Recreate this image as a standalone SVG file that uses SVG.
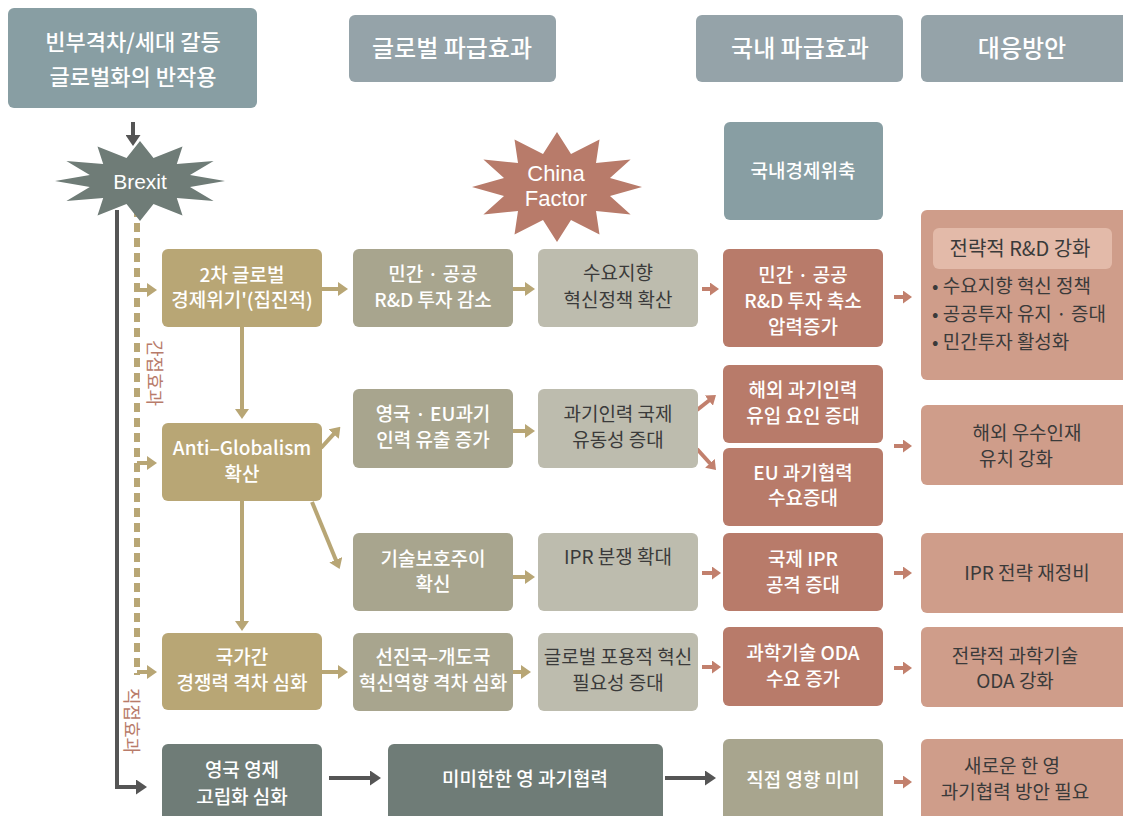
<svg xmlns="http://www.w3.org/2000/svg" width="1123" height="816" viewBox="0 0 1123 816">
<defs>
<style>
text{font-family:"Noto Sans CJK KR","Noto Sans",sans-serif;text-anchor:middle}
.w{fill:#ffffff;font-size:19px;font-weight:500}
.d{fill:#3a3a3a;font-size:19px}
.hd{fill:#ffffff;font-size:24px;font-weight:500}
.en{font-family:"Liberation Sans",Arial,sans-serif;fill:#ffffff}
.hdr1{fill:#889ea3}
.hdr{fill:#95a3a9}
.tan{fill:#b8a675}
.olv{fill:#a8a58e}
.lgr{fill:#bdbcae}
.rst{fill:#b87b6a}
.sal{fill:#cf9d8a}
.dgg{fill:#6f7c77}
.tl{fill:#889ea3}
.ct{stroke:#b8a675;stroke-width:4;fill:none;marker-end:url(#ht)}
.cr{stroke:#c2806d;stroke-width:4;fill:none;marker-end:url(#hr)}
.cd{stroke:#555555;stroke-width:4;fill:none;marker-end:url(#hd)}
.vl{fill:#b87b6a;font-size:18px}
.bl{fill:#3a3a3a;font-size:19px;text-anchor:start}
</style>
<marker id="ht" viewBox="0 0 10 14" refX="1" refY="7" markerWidth="10" markerHeight="14" markerUnits="userSpaceOnUse" orient="auto"><path d="M0,0 L10,7 L0,14 z" fill="#b8a675"/></marker>
<marker id="hr" viewBox="0 0 9 13" refX="1" refY="6.5" markerWidth="9" markerHeight="13" markerUnits="userSpaceOnUse" orient="auto"><path d="M0,0 L9,6.5 L0,13 z" fill="#c2806d"/></marker>
<marker id="hd" viewBox="0 0 11 15" refX="1" refY="7.5" markerWidth="11" markerHeight="15" markerUnits="userSpaceOnUse" orient="auto"><path d="M0,0 L11,7.5 L0,15 z" fill="#555555"/></marker>
</defs>

<!-- headers -->
<g id="h1"><rect class="hdr1" x="8" y="8" width="249" height="100" rx="6"/><text class="hd" style="font-size:22px" x="133" y="50">빈부격차/세대 갈등</text><text class="hd" style="font-size:22px" x="133" y="85">글로벌화의 반작용</text></g>
<g id="h2"><rect class="hdr" x="349" y="15" width="207" height="67" rx="6"/><text class="hd" x="452" y="57">글로벌 파급효과</text></g>
<g id="h3"><rect class="hdr" x="696" y="15" width="207" height="67" rx="6"/><text class="hd" x="800" y="57">국내 파급효과</text></g>
<g id="h4"><rect class="hdr" x="921" y="15" width="210" height="67" rx="6"/><text class="hd" x="1022" y="57">대응방안</text></g>

<!-- connectors -->
<g id="connectors">
<path class="cd" d="M133,122 V136"/>
<path class="cd" d="M117,210 V787 H137"/>
<path d="M137,208 V675" stroke="#b8a675" stroke-width="6" stroke-dasharray="9 6" fill="none"/>
<path class="ct" d="M137,290 H148"/>
<path class="ct" d="M137,463 H148"/>
<path class="ct" d="M137,672 H148"/>
<path class="ct" d="M322,289 H339"/>
<path class="ct" d="M510,289 H526"/>
<path class="ct" d="M242,327 V410"/>
<path class="ct" d="M242,501 V622"/>
<path class="ct" d="M321,448 L334.3,433.4"/>
<path class="ct" d="M312,502 L336.2,560.7"/>
<path class="ct" d="M510,431 H526"/>
<path class="ct" d="M510,577 H526"/>
<path class="ct" d="M322,672 H339"/>
<path class="ct" d="M505,672 H522"/>
<path class="cr" d="M702,289 H711"/>
<path class="cr" d="M697,410 L709.7,400"/>
<path class="cr" d="M697,449 L710.6,464"/>
<path class="cr" d="M702,573 H713"/>
<path class="cr" d="M702,667 H713"/>
<path class="cr" d="M894,297 H904"/>
<path class="cr" d="M894,446 H904"/>
<path class="cr" d="M894,573 H904"/>
<path class="cr" d="M894,668 H904"/>
<path class="cr" d="M894,782 H904"/>
<path class="cd" d="M329,778 H371"/>
<path class="cd" d="M665,778 H706"/>
<text class="vl" transform="translate(148,373) rotate(90)">간접효과</text>
<text class="vl" transform="translate(125,721) rotate(90)">직접효과</text>
</g>

<!-- stars -->
<g id="brexit">
<polygon fill="#6f7c77" points="225,181 190,187 213.6,201 176.8,198 182.5,215.6 153.5,204 140,221 126.5,204 97.5,215.6 103.2,198 66.4,201 89.8,187 55,181 89.8,175 66.4,161 103.2,164 97.5,146.4 126.5,158 140,141 153.5,158 182.5,146.4 176.8,164 213.6,161 190,175"/>
<text class="en" font-size="21" x="140" y="189">Brexit</text>
</g>
<g id="china">
<polygon fill="#b87b6a" points="642,187 610,196 630.6,214.5 596,211 599.5,234.6 571,220 557,242 543,220 514.5,234.6 518,211 483.4,214.5 504,196 472,187 504,178 483.4,159.5 518,163 514.5,139.4 543,154 557,132 571,154 599.5,139.4 596,163 630.6,159.5 610,178"/>
<text class="en" font-size="22" x="556" y="181">China</text>
<text class="en" font-size="22" x="556" y="206">Factor</text>
</g>

<g id="n_domestic"><rect class="tl" x="724" y="122" width="159" height="98" rx="6"/><text class="w" x="803" y="178">국내경제위축</text></g>

<!-- column 1 -->
<g id="c1a"><rect class="tan" x="162" y="249" width="160" height="78" rx="6"/><text class="w" x="242" y="282">2차 글로벌</text><text class="w" x="242" y="307">경제위기'(집진적)</text></g>
<g id="c1b"><rect class="tan" x="162" y="423" width="160" height="78" rx="6"/><text class="w" x="242" y="455">Anti–Globalism</text><text class="w" x="242" y="481">확산</text></g>
<g id="c1c"><rect class="tan" x="162" y="633" width="160" height="77" rx="6"/><text class="w" x="242" y="664">국가간</text><text class="w" x="242" y="690">경쟁력 격차 심화</text></g>
<g id="c1d"><rect class="dgg" x="162" y="744" width="160" height="80" rx="6"/><text class="w" x="242" y="777">영국 영제</text><text class="w" x="242" y="804">고립화 심화</text></g>

<!-- column 2 -->
<g id="c2a"><rect class="olv" x="353" y="249" width="160" height="78" rx="6"/><text class="w" x="433" y="281">민간 · 공공</text><text class="w" x="433" y="307">R&amp;D 투자 감소</text></g>
<g id="c2b"><rect class="olv" x="353" y="389" width="160" height="79" rx="6"/><text class="w" x="433" y="421">영국 · EU과기</text><text class="w" x="433" y="447">인력 유출 증가</text></g>
<g id="c2c"><rect class="olv" x="353" y="533" width="160" height="78" rx="6"/><text class="w" x="433" y="566">기술보호주이</text><text class="w" x="433" y="591">확신</text></g>
<g id="c2d"><rect class="olv" x="353" y="633" width="160" height="78" rx="6"/><text class="w" x="433" y="664">선진국–개도국</text><text class="w" x="433" y="690">혁신역향 격차 심화</text></g>
<g id="c2e"><rect class="dgg" x="388" y="744" width="275" height="80" rx="6"/><text class="w" x="525" y="786">미미한한 영 과기협력</text></g>

<!-- column 3 -->
<g id="c3a"><rect class="lgr" x="538" y="249" width="160" height="78" rx="6"/><text class="d" x="618" y="280">수요지향</text><text class="d" x="618" y="307">혁신정책 확산</text></g>
<g id="c3b"><rect class="lgr" x="538" y="389" width="160" height="79" rx="6"/><text class="d" x="618" y="421">과기인력 국제</text><text class="d" x="618" y="447">유동성 증대</text></g>
<g id="c3c"><rect class="lgr" x="538" y="533" width="160" height="78" rx="6"/><text class="d" x="618" y="564">IPR 분쟁 확대</text></g>
<g id="c3d"><rect class="lgr" x="538" y="633" width="160" height="78" rx="6"/><text class="d" x="618" y="664">글로벌 포용적 혁신</text><text class="d" x="618" y="690">필요성 증대</text></g>

<!-- column 4 -->
<g id="c4a"><rect class="rst" x="723" y="249" width="160" height="98" rx="6"/><text class="w" x="803" y="282">민간 · 공공</text><text class="w" x="803" y="308">R&amp;D 투자 축소</text><text class="w" x="803" y="334">압력증가</text></g>
<g id="c4b"><rect class="rst" x="723" y="365" width="160" height="78" rx="6"/><text class="w" x="803" y="397">해외 과기인력</text><text class="w" x="803" y="423">유입 요인 증대</text></g>
<g id="c4c"><rect class="rst" x="723" y="448" width="160" height="78" rx="6"/><text class="w" x="803" y="480">EU 과기협력</text><text class="w" x="803" y="505">수요증대</text></g>
<g id="c4d"><rect class="rst" x="723" y="533" width="160" height="78" rx="6"/><text class="w" x="803" y="566">국제 IPR</text><text class="w" x="803" y="592">공격 증대</text></g>
<g id="c4e"><rect class="rst" x="723" y="627" width="160" height="79" rx="6"/><text class="w" x="803" y="660">과학기술 ODA</text><text class="w" x="803" y="686">수요 증가</text></g>
<g id="c4f"><rect class="olv" x="723" y="739" width="160" height="85" rx="6"/><text class="w" x="803" y="787">직접 영향 미미</text></g>

<!-- column 5 -->
<g id="c5a"><rect class="sal" x="921" y="210" width="210" height="170" rx="6"/><rect x="933" y="228" width="179" height="41" rx="6" fill="#e3baa9"/><text class="d" style="font-size:20px" x="1020" y="256">전략적 R&amp;D 강화</text>
<text class="bl" x="932" y="293">• 수요지향 혁신 정책</text>
<text class="bl" x="932" y="321">• 공공투자 유지 · 증대</text>
<text class="bl" x="932" y="349">• 민간투자 활성화</text></g>
<g id="c5b"><rect class="sal" x="921" y="405" width="210" height="80" rx="6"/><text class="d" x="1027" y="440">해외 우수인재</text><text class="d" x="1016" y="466">유치 강화</text></g>
<g id="c5c"><rect class="sal" x="921" y="533" width="210" height="80" rx="6"/><text class="d" x="1027" y="580">IPR 전략 재정비</text></g>
<g id="c5d"><rect class="sal" x="921" y="627" width="210" height="80" rx="6"/><text class="d" x="1015" y="663">전략적 과학기술</text><text class="d" x="1015" y="688">ODA 강화</text></g>
<g id="c5e"><rect class="sal" x="921" y="739" width="210" height="85" rx="6"/><text class="d" x="1012" y="773">새로운 한 영</text><text class="d" x="1015" y="799">과기협력 방안 필요</text></g>
</svg>
